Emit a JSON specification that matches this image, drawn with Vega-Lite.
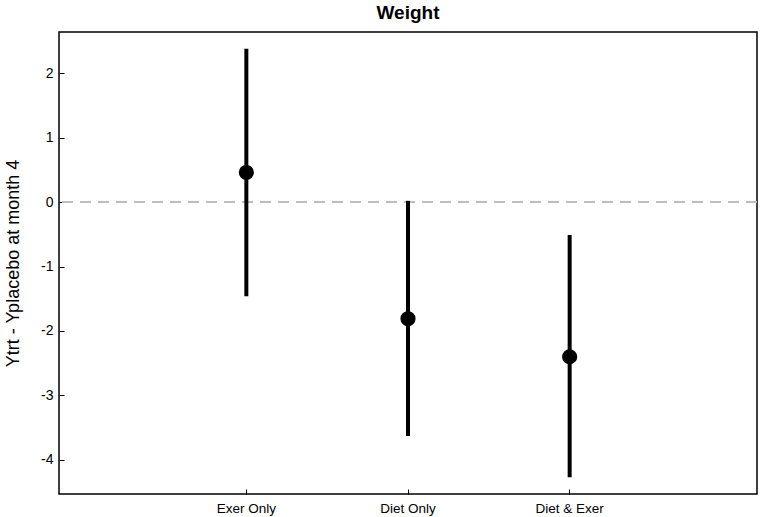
{
  "$schema": "https://vega.github.io/schema/vega-lite/v6.json",
  "width": 698,
  "height": 462,
  "autosize": {"type": "none"},
  "padding": {"left": 59, "top": 32, "right": 5, "bottom": 23},
  "background": "white",
  "title": {"text": "Weight", "fontSize": 19, "font": "Liberation Sans", "fontWeight": "bold", "offset": 9, "color": "black", "anchor": "middle"},
  "config": {
    "view": {"stroke": "black", "strokeWidth": 1.5},
    "axis": {"labelFont": "Liberation Sans", "titleFont": "Liberation Sans", "labelColor": "black", "titleColor": "black", "tickColor": "black", "domain": false, "grid": false}
  },
  "data": {
    "values": [
      {"group": "Exer Only", "est": 0.46, "lower": -1.46, "upper": 2.38},
      {"group": "Diet Only", "est": -1.81, "lower": -3.63, "upper": 0.02},
      {"group": "Diet & Exer", "est": -2.40, "lower": -4.27, "upper": -0.51}
    ]
  },
  "layer": [
    {
      "mark": {"type": "rule", "strokeDash": [11, 7], "color": "#bdbdbd", "strokeWidth": 2},
      "encoding": {"y": {"datum": 0, "type": "quantitative"}}
    },
    {
      "mark": {"type": "rule", "strokeWidth": 4, "color": "black"},
      "encoding": {
        "x": {"field": "group", "type": "ordinal", "sort": null, "scale": {"type": "band", "paddingInner": 0, "paddingOuter": 0.659},
          "axis": {"title": null, "labelAngle": 0, "labelFontSize": 13.5, "tickSize": -5, "labelPadding": 12, "bandPosition": 0.5}},
        "y": {"field": "lower", "type": "quantitative", "scale": {"domain": [-4.53, 2.64], "nice": false, "zero": false},
          "axis": {"title": "Ytrt - Yplacebo at month 4", "titleFontSize": 18, "titleFontWeight": "normal", "values": [-4, -3, -2, -1, 0, 1, 2], "labelExpr": "datum.value + ''", "labelFontSize": 14, "tickSize": -5, "labelPadding": 11, "titlePadding": 18}},
        "y2": {"field": "upper"}
      }
    },
    {
      "mark": {"type": "point", "filled": true, "size": 230, "opacity": 1, "color": "black"},
      "encoding": {
        "x": {"field": "group", "type": "ordinal", "sort": null},
        "y": {"field": "est", "type": "quantitative"}
      }
    }
  ]
}
